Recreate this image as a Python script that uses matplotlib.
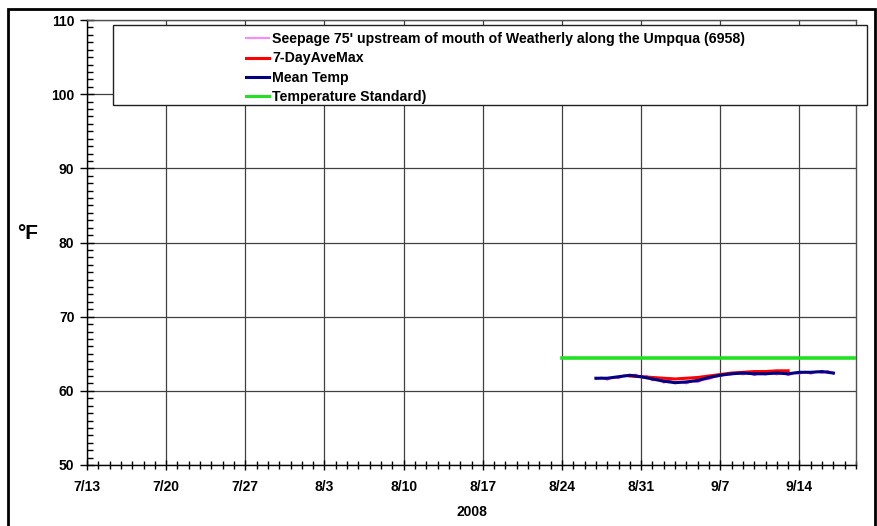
import matplotlib
matplotlib.use("Agg")
import matplotlib.pyplot as plt
import matplotlib.dates as mdates
from matplotlib.patches import Rectangle
from matplotlib.lines import Line2D
from matplotlib.ticker import MultipleLocator
import pandas as pd

plt.rcParams['font.family'] = ['Liberation Sans', 'DejaVu Sans']
plt.rcParams['font.weight'] = 'bold'

# ---- data ----
mean_dates = pd.date_range("2008-08-27", "2008-09-17", freq="D")
mean_temp = [61.7, 61.7, 61.9, 62.1, 61.9, 61.6, 61.3, 61.1, 61.2, 61.4, 61.8,
             62.1, 62.3, 62.4, 62.3, 62.3, 62.4, 62.3, 62.5, 62.5, 62.6, 62.4]

max7_dates = pd.date_range("2008-08-30", "2008-09-13", freq="D")
max7_temp = [62.0, 61.9, 61.8, 61.7, 61.6, 61.7, 61.8, 62.0, 62.2, 62.4, 62.5,
             62.6, 62.6, 62.7, 62.7]

seep_dates = pd.date_range("2008-08-27 00:00", "2008-09-17 00:00", freq="12h")
seep_temp = [61.6, 61.8, 61.5, 61.8, 61.7, 62.1, 62.0, 62.2, 61.8, 62.0,
             61.4, 61.7, 61.1, 61.4, 61.0, 61.2, 61.0, 61.3, 61.2, 61.5,
             61.6, 61.9, 62.0, 62.2, 62.2, 62.4, 62.2, 62.5, 62.1, 62.4,
             62.2, 62.4, 62.2, 62.5, 62.1, 62.4, 62.3, 62.6, 62.3, 62.6,
             62.4, 62.7, 62.3]

std_dates = pd.to_datetime(["2008-08-24", "2008-09-19"])
std_temp = [64.4, 64.4]

legend_labels = ["Seepage 75' upstream of mouth of Weatherly along the Umpqua (6958)",
                 "7-DayAveMax", "Mean Temp", "Temperature Standard)"]
tick_dates = pd.date_range("2008-07-13", "2008-09-14", freq="7D")
tick_labels = [f"{d.month}/{d.day}" for d in tick_dates]

# ---- figure ----
W, H = 878, 526
fig = plt.figure(figsize=(W / 100, H / 100), dpi=100)
fig.patch.set_facecolor('white')

L, R, T, B = 87, 856, 20, 465
ax = fig.add_axes([L / W, (H - B) / H, (R - L) / W, (B - T) / H])

grid_c = '#404040'
ax.set_xlim(pd.Timestamp("2008-07-13"), pd.Timestamp("2008-09-19"))
ax.set_ylim(50, 110)
ax.set_yticks(range(50, 111, 10))
ax.yaxis.set_minor_locator(MultipleLocator(1))
ax.set_xticks(tick_dates)
ax.set_xticklabels(tick_labels)
ax.xaxis.set_minor_locator(mdates.DayLocator())

ax.grid(True, which='major', color=grid_c, linewidth=0.9)
ax.set_axisbelow(True)

for s in ['top', 'right']:
    ax.spines[s].set_color('#505050')
    ax.spines[s].set_linewidth(1.0)
for s in ['left', 'bottom']:
    ax.spines[s].set_color('black')
    ax.spines[s].set_linewidth(1.0)

ax.tick_params(axis='y', which='major', direction='inout', length=10, width=1,
               labelsize=10, pad=4)
ax.tick_params(axis='y', which='minor', direction='in', length=4, width=1)
ax.tick_params(axis='x', which='major', direction='inout', length=7, width=1,
               labelsize=10, pad=7)
ax.tick_params(axis='x', which='minor', direction='inout', length=6, width=1)
for lab in ax.get_xticklabels() + ax.get_yticklabels():
    lab.set_fontweight('bold')

# ---- series ----
ax.plot(std_dates, std_temp, color='#22e022', linewidth=2.6, zorder=3)
ax.plot(seep_dates, seep_temp, color='#ff33ff', linewidth=1.3, zorder=4)
ax.plot(max7_dates, max7_temp, color='#ff0000', linewidth=2.2, zorder=5)
ax.plot(mean_dates, mean_temp, color='#000080', linewidth=2.2, zorder=6)

ax.set_xlabel("2008", fontsize=10, fontweight='bold', labelpad=8)
fig.text(28 / W, 1 - 233 / H, "°F", fontsize=15, fontweight='bold',
         ha='center', va='center')

# ---- legend box ----
lx0, ly0, lx1, ly1 = 113, 25, 867, 105
fig.patches.append(Rectangle((lx0 / W, 1 - ly1 / H), (lx1 - lx0) / W, (ly1 - ly0) / H,
                             transform=fig.transFigure, facecolor='white',
                             edgecolor='#202020', linewidth=1.0, zorder=10))
handles = [Line2D([], [], color='#ff88ff', linewidth=1.5),
           Line2D([], [], color='#ff0000', linewidth=2.2),
           Line2D([], [], color='#000080', linewidth=2.2),
           Line2D([], [], color='#22e022', linewidth=2.2)]
leg = fig.legend(handles, legend_labels, loc='upper left',
                 bbox_to_anchor=(239 / W, 1 - 25 / H), frameon=False,
                 prop={'size': 10.2, 'weight': 'bold'}, handlelength=1.6,
                 handletextpad=0.25, labelspacing=0.38, borderpad=0.0)
leg.set_zorder(11)

# ---- outer frame ----
fig.patches.append(Rectangle((8 / W, -0.01), (875 - 8) / W, 1 - 9 / H + 0.01,
                             transform=fig.transFigure, facecolor='none',
                             edgecolor='black', linewidth=2.0, zorder=12))

fig.savefig("out.png", dpi=100)
